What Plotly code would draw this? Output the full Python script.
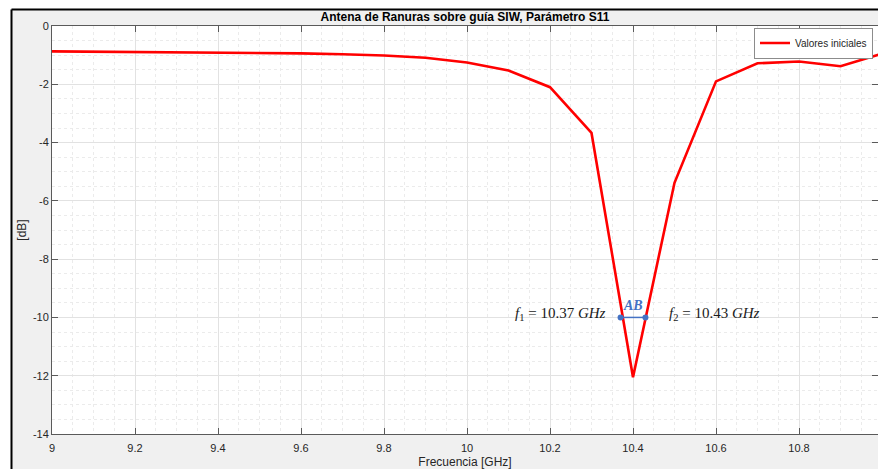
import plotly.graph_objects as go

# Frequency sweep [GHz] and measured S11 [dB]
freq_ghz = [9.0, 9.1, 9.2, 9.3, 9.4, 9.5, 9.6, 9.7, 9.8, 9.9, 10.0,
            10.1, 10.2, 10.3, 10.4, 10.5, 10.6, 10.7, 10.8, 10.9, 11.0]
s11_db = [-0.87, -0.88, -0.89, -0.90, -0.92, -0.93, -0.94, -0.97, -1.01, -1.09, -1.25,
          -1.53, -2.10, -3.67, -12.05, -5.38, -1.90, -1.28, -1.22, -1.38, -0.95]

# -10 dB bandwidth limits
band_freqs = [10.37, 10.43]
band_level = [-10, -10]

x_ticks = [9, 9.2, 9.4, 9.6, 9.8, 10, 10.2, 10.4, 10.6, 10.8, 11]
y_ticks = [0, -2, -4, -6, -8, -10, -12, -14]

W, H = 878, 469
L, T, B = 52, 26, 35
px_per_ghz = 415.0
plot_w = W - L
x_max = 9 + plot_w / px_per_ghz
plot_h = H - T - B

def px_x(px):
    return (px - L) / plot_w

def px_y(py):
    return (H - B - py) / plot_h

fig = go.Figure()

fig.add_trace(go.Scatter(
    x=freq_ghz, y=s11_db, mode="lines", name="Valores iniciales",
    line=dict(color="#ff0000", width=2.6),
))

fig.add_trace(go.Scatter(
    x=band_freqs, y=band_level, mode="lines+markers", showlegend=False,
    line=dict(color="#4472c4", width=1.5),
    marker=dict(color="#4472c4", size=6),
))

serif = "Liberation Serif"
fig.add_annotation(x=band_freqs[0], y=band_level[0], xref="x", yref="y",
                   text="<i>f</i><sub>1</sub> = 10.37 <i>GHz</i>",
                   showarrow=False, xanchor="right", yanchor="middle",
                   xshift=-13, yshift=3, font=dict(family=serif, size=15, color="#1a1a1a"))
fig.add_annotation(x=band_freqs[1], y=band_level[1], xref="x", yref="y",
                   text="<i>f</i><sub>2</sub> = 10.43 <i>GHz</i>",
                   showarrow=False, xanchor="left", yanchor="middle",
                   xshift=22, yshift=3, font=dict(family=serif, size=15, color="#1a1a1a"))
fig.add_annotation(x=(band_freqs[0] + band_freqs[1]) / 2, y=band_level[0], xref="x", yref="y",
                   text="<b><i>AB</i></b>", showarrow=False, yanchor="bottom", yshift=2,
                   font=dict(family=serif, size=14, color="#4472c4"))

# window frame: white strip outside, black edge line
edge_x, edge_y = 11.5, 9.5
fig.add_shape(type="rect", xref="paper", yref="paper",
              x0=px_x(-5), x1=px_x(edge_x), y0=px_y(H + 5), y1=px_y(-5),
              fillcolor="white", line=dict(width=0), layer="below")
fig.add_shape(type="rect", xref="paper", yref="paper",
              x0=px_x(-5), x1=px_x(W + 5), y0=px_y(edge_y), y1=px_y(-5),
              fillcolor="white", line=dict(width=0), layer="below")
fig.add_shape(type="line", xref="paper", yref="paper",
              x0=px_x(edge_x), x1=px_x(edge_x), y0=px_y(edge_y), y1=px_y(H + 5),
              line=dict(color="black", width=2))
fig.add_shape(type="line", xref="paper", yref="paper",
              x0=px_x(edge_x), x1=px_x(W + 5), y0=px_y(edge_y), y1=px_y(edge_y),
              line=dict(color="black", width=2))

axis_common = dict(
    showline=True, linecolor="#5a5a5a", linewidth=1, mirror="ticks",
    ticks="inside", ticklen=6, tickcolor="#5a5a5a",
    showgrid=True, gridcolor="#e2e2e2", gridwidth=1,
    zeroline=False,
    tickfont=dict(family="Liberation Sans, Arial", size=11, color="#262626"),
)

fig.update_xaxes(
    range=[9, x_max], tickvals=x_ticks, ticktext=[f"{v:g}" for v in x_ticks],
    minor=dict(dtick=0.05, showgrid=True, gridcolor="#ebebeb", griddash="dot", ticks=""),
    ticklabelstandoff=4,
    title=dict(text="Frecuencia [GHz]", standoff=6,
               font=dict(family="Liberation Sans, Arial", size=12, color="#262626")),
    **axis_common,
)
fig.update_yaxes(
    range=[-14, 0], tickvals=y_ticks, ticktext=[f"{v:g}" for v in y_ticks],
    minor=dict(dtick=0.5, showgrid=True, gridcolor="#ebebeb", griddash="dot", ticks=""),
    title=dict(text="[dB]", standoff=3,
               font=dict(family="Liberation Sans, Arial", size=12, color="#262626")),
    **axis_common,
)

fig.update_layout(
    width=W, height=H,
    margin=dict(l=L, r=0, t=T, b=B),
    paper_bgcolor="#f0f0f0", plot_bgcolor="white",
    title=dict(text="<b>Antena de Ranuras sobre guía SIW, Parámetro S11</b>",
               x=0.5, xref="paper", xanchor="center",
               y=1 - 17 / H, yref="container", yanchor="middle",
               font=dict(family="Liberation Sans, Arial", size=12, color="black")),
    legend=dict(x=px_x(873), y=px_y(43), xanchor="right", yanchor="middle",
                bgcolor="white", bordercolor="#8c8c8c", borderwidth=1,
                itemwidth=30, tracegroupgap=0,
                font=dict(family="Liberation Sans, Arial", size=10, color="#262626")),
    showlegend=True,
)

fig.write_html("out.html")
